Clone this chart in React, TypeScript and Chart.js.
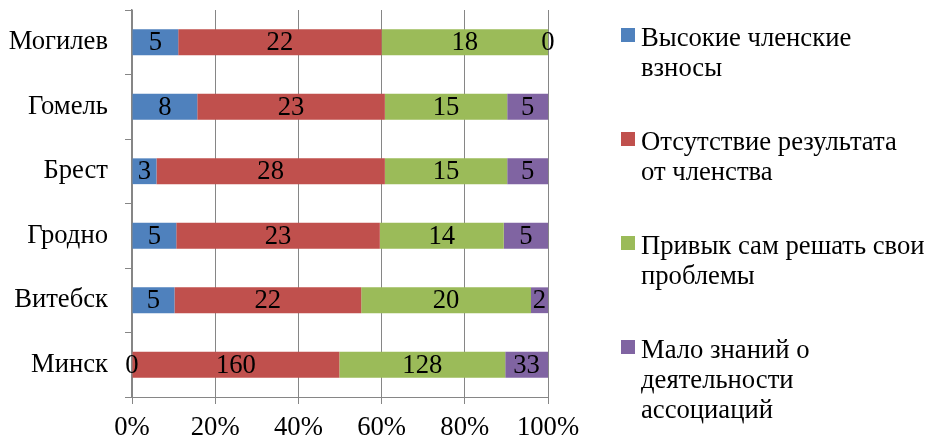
import React, { useEffect, useRef } from "react";
import { Chart, registerables } from "chart.js";

Chart.register(...registerables);

const categories = ["Могилев", "Гомель", "Брест", "Гродно", "Витебск", "Минск"];
const seriesNames = [
  "Высокие членские\nвзносы",
  "Отсутствие результата\nот членства",
  "Привык сам решать свои\nпроблемы",
  "Мало знаний о\nдеятельности\nассоциаций",
];
const seriesColors = ["#4F81BD", "#C0504D", "#9BBB59", "#8064A2"];
const highFees = [5, 8, 3, 5, 5, 0];
const noResult = [22, 23, 28, 23, 22, 160];
const selfSolve = [18, 15, 15, 14, 20, 128];
const littleKnowledge = [0, 5, 5, 5, 2, 33];
const xTickValues = [0, 20, 40, 60, 80, 100];

const FONT = "'Liberation Serif', 'Times New Roman', serif";
const FS = 26.67;

export default function App() {
  const canvasRef = useRef<HTMLCanvasElement | null>(null);

  useEffect(() => {
    document.body.style.margin = "0";
    const raw = [highFees, noResult, selfSolve, littleKnowledge];
    const totals = categories.map((_, i) => raw.reduce((s, arr) => s + arr[i], 0));
    const datasets = raw.map((arr, k) => ({
      label: seriesNames[k].replace(/\n/g, " "),
      data: arr.map((v, i) => (v / totals[i]) * 100),
      backgroundColor: seriesColors[k],
      borderWidth: 0,
      categoryPercentage: 0.8,
      barPercentage: 0.5,
    }));

    const labelPlugin = {
      id: "segLabels",
      afterDatasetsDraw(chart: any) {
        const ctx = chart.ctx;
        ctx.save();
        ctx.font = `${FS}px ${FONT}`;
        ctx.fillStyle = "#000";
        ctx.textAlign = "center";
        ctx.textBaseline = "middle";
        chart.data.datasets.forEach((_: any, k: number) => {
          const meta = chart.getDatasetMeta(k);
          meta.data.forEach((bar: any, i: number) => {
            const x = (bar.x + bar.base) / 2;
            ctx.fillText(String(raw[k][i]), x, bar.y + 1);
          });
        });
        ctx.restore();
      },
    };

    const chart = new Chart(canvasRef.current as HTMLCanvasElement, {
      type: "bar",
      data: { labels: categories, datasets },
      options: {
        indexAxis: "y",
        animation: false,
        responsive: false,
        layout: { padding: { top: 10, right: 380, left: 0, bottom: 0 } },
        plugins: { legend: { display: false }, tooltip: { enabled: false } },
        scales: {
          x: {
            stacked: true,
            min: 0,
            max: 100,
            afterBuildTicks: (scale: any) => {
              scale.ticks = xTickValues.map((v) => ({ value: v }));
            },
            afterFit: (scale: any) => {
              scale.height = 42;
              scale.paddingLeft = 0;
              scale.paddingRight = 0;
            },
            ticks: {
              callback: (v: any) => v + "%",
              color: "#000",
              font: { family: FONT, size: FS },
              padding: 8,
              maxRotation: 0,
            },
            grid: { color: "#868686", lineWidth: 1, tickLength: 7, drawTicks: true },
            border: { display: true, color: "#868686", width: 1 },
          },
          y: {
            stacked: true,
            afterFit: (scale: any) => {
              scale.width = 132;
              scale.paddingTop = 0;
              scale.paddingBottom = 0;
            },
            ticks: {
              color: "#000",
              font: { family: FONT, size: FS },
              padding: 17,
            },
            grid: {
              offset: true,
              drawOnChartArea: false,
              drawTicks: true,
              tickLength: 7,
              color: "#868686",
            },
            border: { display: true, color: "#868686", width: 1.5 },
          },
        },
      },
      plugins: [labelPlugin],
    } as any);
    return () => chart.destroy();
  }, []);

  return (
    <div style={{ position: "relative", width: 928, height: 439, background: "#fff" }}>
      <canvas ref={canvasRef} width={928} height={439} style={{ display: "block" }} />
      <div
        style={{
          position: "absolute",
          left: 621,
          top: 22,
          display: "flex",
          flexDirection: "column",
          gap: 44,
          fontFamily: FONT,
          fontSize: FS,
          lineHeight: "30px",
          color: "#000",
        }}
      >
        {seriesNames.map((name, k) => (
          <div key={k} style={{ display: "flex", alignItems: "flex-start" }}>
            <span
              style={{
                display: "inline-block",
                width: 14,
                height: 14,
                marginTop: 6,
                marginRight: 6,
                background: seriesColors[k],
                flex: "none",
              }}
            />
            <span style={{ whiteSpace: "pre-line" }}>{name}</span>
          </div>
        ))}
      </div>
    </div>
  );
}
